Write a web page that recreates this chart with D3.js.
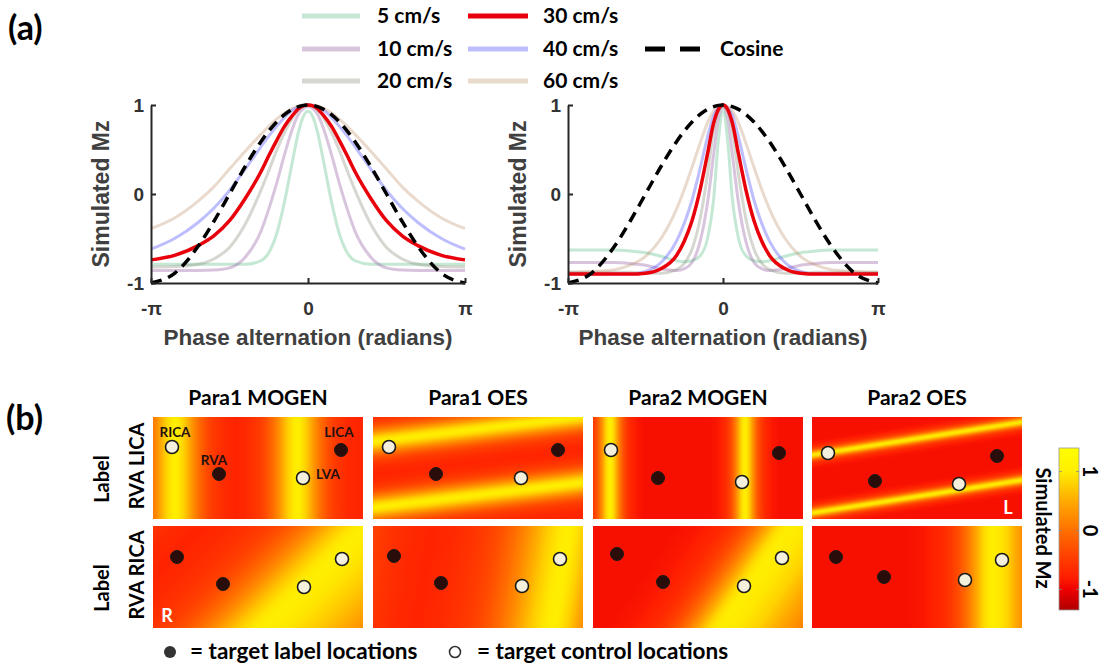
<!DOCTYPE html>
<html>
<head>
<meta charset="utf-8">
<script src="https://cdn.jsdelivr.net/npm/d3@7"></script>
<style>
  body { margin: 0; background: #fff; }
</style>
</head>
<body>
<svg id="chart" width="1107" height="666"></svg>
<script>
// phase alternation, in units of pi
const phaseGrid = [-1, -0.85, -0.7, -0.6, -0.5, -0.4, -0.3, -0.25, -0.2, -0.15, -0.1, -0.06, -0.03, 0,
                   0.03, 0.06, 0.1, 0.15, 0.2, 0.25, 0.3, 0.4, 0.5, 0.6, 0.7, 0.85, 1];

const speedNames = ['5 cm/s', '10 cm/s', '20 cm/s', '30 cm/s', '40 cm/s', '60 cm/s'];

// Para1 (left plot), simulated Mz per speed
const para1V5  = [-0.79,-0.79,-0.79,-0.79,-0.79,-0.79,-0.75,-0.66,-0.45,-0.09,0.36,0.70,0.87,0.93,0.87,0.70,0.36,-0.09,-0.45,-0.66,-0.75,-0.79,-0.79,-0.79,-0.79,-0.79,-0.79];
const para1V10 = [-0.86,-0.86,-0.86,-0.855,-0.83,-0.71,-0.42,-0.17,0.12,0.44,0.73,0.90,0.96,0.98,0.96,0.90,0.73,0.44,0.12,-0.17,-0.42,-0.71,-0.83,-0.855,-0.86,-0.86,-0.86];
const para1V20 = [-0.82,-0.815,-0.79,-0.73,-0.6,-0.34,0.04,0.26,0.49,0.69,0.855,0.95,0.99,1.0,0.99,0.95,0.855,0.69,0.49,0.26,0.04,-0.34,-0.6,-0.73,-0.79,-0.815,-0.82];
const para1V30 = [-0.74,-0.69,-0.58,-0.47,-0.3,-0.05,0.25,0.43,0.6,0.76,0.88,0.96,0.99,1.0,0.99,0.96,0.88,0.76,0.6,0.43,0.25,-0.05,-0.3,-0.47,-0.58,-0.69,-0.74];
const para1V40 = [-0.62,-0.5,-0.32,-0.16,0.04,0.28,0.53,0.65,0.76,0.86,0.94,0.98,0.995,1.0,0.995,0.98,0.94,0.86,0.76,0.65,0.53,0.28,0.04,-0.16,-0.32,-0.5,-0.62];
const para1V60 = [-0.39,-0.27,-0.08,0.08,0.28,0.48,0.67,0.76,0.84,0.91,0.96,0.99,1.0,1.0,1.0,0.99,0.96,0.91,0.84,0.76,0.67,0.48,0.28,0.08,-0.08,-0.27,-0.39];

// Para2 (right plot)
const para2V5  = [-0.63,-0.63,-0.63,-0.64,-0.66,-0.7,-0.75,-0.76,-0.75,-0.7,-0.5,-0.05,0.6,0.93,0.6,-0.05,-0.5,-0.7,-0.75,-0.76,-0.75,-0.7,-0.66,-0.64,-0.63,-0.63,-0.63];
const para2V10 = [-0.77,-0.77,-0.77,-0.78,-0.8,-0.84,-0.86,-0.84,-0.77,-0.55,-0.1,0.45,0.85,0.97,0.85,0.45,-0.1,-0.55,-0.77,-0.84,-0.86,-0.84,-0.8,-0.78,-0.77,-0.77,-0.77];
const para2V20 = [-0.88,-0.88,-0.88,-0.88,-0.89,-0.89,-0.85,-0.78,-0.62,-0.3,0.22,0.72,0.93,0.98,0.93,0.72,0.22,-0.3,-0.62,-0.78,-0.85,-0.89,-0.89,-0.88,-0.88,-0.88,-0.88];
const para2V30 = [-0.9,-0.9,-0.9,-0.9,-0.89,-0.84,-0.69,-0.53,-0.3,0.03,0.45,0.8,0.95,1.0,0.95,0.8,0.45,0.03,-0.3,-0.53,-0.69,-0.84,-0.89,-0.9,-0.9,-0.9,-0.9];
const para2V40 = [-0.9,-0.9,-0.9,-0.9,-0.87,-0.77,-0.53,-0.33,-0.07,0.27,0.64,0.88,0.97,1.0,0.97,0.88,0.64,0.27,-0.07,-0.33,-0.53,-0.77,-0.87,-0.9,-0.9,-0.9,-0.9];
const para2V60 = [-0.88,-0.87,-0.85,-0.8,-0.7,-0.5,-0.17,0.05,0.3,0.56,0.8,0.93,0.98,1.0,0.98,0.93,0.8,0.56,0.3,0.05,-0.17,-0.5,-0.7,-0.8,-0.85,-0.87,-0.88];

const cosineMz = [-1,-0.891,-0.588,-0.309,0,0.309,0.588,0.707,0.809,0.891,0.951,0.982,0.996,1,0.996,0.982,0.951,0.891,0.809,0.707,0.588,0.309,0,-0.309,-0.588,-0.891,-1];

const yTicks = [-1, 0, 1];
const xTicks = [-1, 0, 1];
const xTickLabels = ['-\u03c0', '0', '\u03c0'];

// (b) panels
const panelTitles = ['Para1 MOGEN', 'Para1 OES', 'Para2 MOGEN', 'Para2 OES'];
const rowLabelTop = ['Label', 'Label'];
const rowLabelBottom = ['RVA LICA', 'RVA RICA'];
// Mz field per panel (row-major): stripe through ref point, normal angle, period (px) each side
const fieldProfile = ['para1', 'para1', 'para2', 'para2', 'para1', 'para1', 'para2', 'para2'];
const fieldRefX = [22, 105, 17, 105, 151, 188, 156, 181];
const fieldRefY = [51, 78, 51, 79.5, 61, 51, 60, 51];
const fieldAngle = [0, 83.2, 0, 81.1, 45, 9.4, 34.4, 0];
const fieldPeriodNeg = [122, 65.5, 135, 57.3, 230, 270, 370, 340];
const fieldPeriodPos = [122, 65.5, 135, 57.3, 487, 200, 1000, 480];

// vessel spots per panel, in panel units (210 x 102)
const ricaSpot = [[19,30],[16,30],[18,33],[16,36],[24,31],[21,30],[24,28],[24,31]];
const rvaSpot  = [[66,57],[63,57],[65,61],[63,64],[70,58],[68,57],[70,56],[72,51]];
const lvaSpot  = [[150,61],[148,61],[149,65],[147,67],[151,61],[149,60],[151,60],[153,54]];
const licaSpot = [[188,33],[185,33],[186,36],[185,39],[189,33],[187,33],[189,32],[190,34]];
const labelledVessels = [['RVA', 'LICA'], ['RVA', 'RICA']];

const colorbarTicks = [-1, 0, 1];
const cmapStops = [-1.35, -1, -0.8, -0.4, 0, 0.5, 1.0, 1.4];
const cmapColors = ['#b00000', '#ee0000', '#ff1e00', '#ff4400', '#ff7000', '#ffaa00', '#ffee00', '#ffff00'];

// ---- drawing ----
const svg = d3.select('#chart');
const sans = "Lato, 'Open Sans', sans-serif";
const arial = "'Liberation Sans', Arial, sans-serif";
const speedColors = ['#3cb371', '#8e5a9e', '#8a8c7a', '#e8000b', '#4646ff', '#b5845a'];
const speedOpacity = [0.3, 0.35, 0.35, 1, 0.35, 0.3];

svg.append('rect').attr('width', 1107).attr('height', 666).attr('fill', '#fff');

svg.append('text').attr('x', 8).attr('y', 40).text('(a)')
  .attr('font-family', sans).attr('font-weight', 700).attr('font-size', 34);
svg.append('text').attr('x', 6).attr('y', 430).text('(b)')
  .attr('font-family', sans).attr('font-weight', 700).attr('font-size', 34);

function drawPlot(x0, x1, y0, y1, series) {
  const x = d3.scaleLinear().domain([-1, 1]).range([x0, x1]);
  const y = d3.scaleLinear().domain([-1, 1]).range([y1, y0]);
  const g = svg.append('g');

  const line = d3.line()
    .x((d, i) => x(phaseGrid[i]))
    .y(d => y(d))
    .curve(d3.curveMonotoneX);

  // faint speeds first, red 30 cm/s on top, then cosine
  const order = [0, 1, 2, 5, 4, 3];
  order.forEach(k => {
    g.append('path').datum(series[k])
      .attr('d', line)
      .attr('fill', 'none')
      .attr('stroke', speedColors[k])
      .attr('stroke-opacity', speedOpacity[k])
      .attr('stroke-width', k === 3 ? 3.5 : 3);
  });
  g.append('path').datum(cosineMz)
    .attr('d', line)
    .attr('fill', 'none')
    .attr('stroke', '#000')
    .attr('stroke-width', 3.5)
    .attr('stroke-dasharray', '11,7');

  const yAxis = g.append('g').attr('transform', `translate(${x0},0)`)
    .call(d3.axisLeft(y).tickValues(yTicks).tickFormat(d => String(d))
      .tickSizeInner(-5).tickSizeOuter(0).tickPadding(7));
  const xAxis = g.append('g').attr('transform', `translate(0,${y1})`)
    .call(d3.axisBottom(x).tickValues(xTicks).tickFormat((d, i) => xTickLabels[i])
      .tickSizeInner(-5).tickSizeOuter(0).tickPadding(19));
  [yAxis, xAxis].forEach(a => {
    a.selectAll('path, line').attr('stroke', '#262626').attr('stroke-width', 2);
    a.selectAll('text').attr('font-family', arial).attr('font-weight', 700)
      .attr('font-size', 19).attr('fill', '#333');
  });

  g.append('text')
    .attr('transform', `translate(${x0 - 42},${(y0 + y1) / 2}) rotate(-90)`)
    .attr('text-anchor', 'middle')
    .attr('font-family', arial).attr('font-weight', 700).attr('font-size', 23)
    .attr('fill', '#404040').text('Simulated Mz');
  g.append('text')
    .attr('x', (x0 + x1) / 2).attr('y', 345)
    .attr('text-anchor', 'middle')
    .attr('font-family', arial).attr('font-weight', 700).attr('font-size', 22.5)
    .attr('fill', '#404040').text('Phase alternation (radians)');
}

const para1 = [para1V5, para1V10, para1V20, para1V30, para1V40, para1V60];
const para2 = [para2V5, para2V10, para2V20, para2V30, para2V40, para2V60];
drawPlot(151, 465, 105, 283, para1);
drawPlot(568, 878, 105, 283, para2);

// legend
const legRowY = [16, 49, 81];
const legCols = [{ x1: 302, x2: 360, tx: 377 }, { x1: 468, x2: 528, tx: 543 }];
speedNames.forEach((name, k) => {
  const c = legCols[Math.floor(k / 3)];
  const yy = legRowY[k % 3];
  svg.append('line').attr('x1', c.x1).attr('x2', c.x2).attr('y1', yy).attr('y2', yy)
    .attr('stroke', speedColors[k]).attr('stroke-opacity', speedOpacity[k])
    .attr('stroke-width', 5);
  svg.append('text').attr('x', c.tx).attr('y', yy).attr('dy', '0.35em').text(name)
    .attr('font-family', sans).attr('font-weight', 700).attr('font-size', 21);
});
svg.append('line').attr('x1', 645).attr('x2', 700).attr('y1', legRowY[1]).attr('y2', legRowY[1])
  .attr('stroke', '#000').attr('stroke-width', 5).attr('stroke-dasharray', '20,15');
svg.append('text').attr('x', 720).attr('y', legRowY[1]).attr('dy', '0.35em').text('Cosine')
  .attr('font-family', sans).attr('font-weight', 700).attr('font-size', 21);

// ---- (b) heat maps ----
const color = d3.scaleLinear().domain(cmapStops).range(cmapColors).clamp(true);
const profiles = {
  para1: d3.scaleLinear().domain(phaseGrid).range(para1V30),
  para2: d3.scaleLinear().domain(phaseGrid).range(para2V30)
};
const panelX = [153, 373, 593, 812];
const panelY = [417, 526];
const panelW = 210, panelH = 102;
const defs = svg.append('defs');

d3.range(8).forEach(i => {
  const row = Math.floor(i / 4), col = i % 4;
  const xs = d3.scaleLinear().domain([0, panelW]).range([panelX[col], panelX[col] + panelW]);
  const ys = d3.scaleLinear().domain([0, panelH]).range([panelY[row], panelY[row] + panelH]);
  const a = fieldAngle[i] * Math.PI / 180, nx = Math.cos(a), ny = Math.sin(a);
  const L = 260, nStops = 320;
  const grad = defs.append('linearGradient').attr('id', 'hm' + i)
    .attr('gradientUnits', 'userSpaceOnUse')
    .attr('x1', xs(fieldRefX[i] - nx * L)).attr('y1', ys(fieldRefY[i] - ny * L))
    .attr('x2', xs(fieldRefX[i] + nx * L)).attr('y2', ys(fieldRefY[i] + ny * L));
  const prof = profiles[fieldProfile[i]];
  d3.range(nStops + 1).forEach(k => {
    const s = -L + 2 * L * k / nStops;
    const per = s < 0 ? fieldPeriodNeg[i] : fieldPeriodPos[i];
    let f = 2 * s / per;
    f = ((f + 1) % 2 + 2) % 2 - 1;
    grad.append('stop').attr('offset', k / nStops).attr('stop-color', color(prof(f)));
  });
  const g = svg.append('g');
  g.append('rect').attr('x', xs(0)).attr('y', ys(0))
    .attr('width', xs(panelW) - xs(0)).attr('height', ys(panelH) - ys(0))
    .attr('fill', `url(#hm${i})`);

  const spots = { RICA: ricaSpot[i], RVA: rvaSpot[i], LVA: lvaSpot[i], LICA: licaSpot[i] };
  Object.keys(spots).forEach(v => {
    const lab = labelledVessels[row].includes(v);
    g.append('circle').attr('cx', xs(spots[v][0])).attr('cy', ys(spots[v][1])).attr('r', 6.5)
      .attr('fill', lab ? '#2a0c0a' : '#f4f0dc')
      .attr('stroke', '#1a1a1a').attr('stroke-width', lab ? 1 : 1.6);
  });

  if (i === 0) {
    const tl = [['RICA', 22, 15, 'middle'], ['RVA', 61, 43, 'middle'], ['LICA', 186, 15, 'middle'], ['LVA', 163, 57, 'start']];
    tl.forEach(t => g.append('text').attr('x', xs(t[1])).attr('y', ys(t[2])).attr('dy', '0.35em')
      .attr('text-anchor', t[3]).text(t[0])
      .attr('font-family', sans).attr('font-weight', 700).attr('font-size', 13.5).attr('fill', '#221010'));
  }
  if (i === 3) {
    g.append('text').attr('x', xs(196)).attr('y', ys(91)).attr('dy', '0.35em').attr('text-anchor', 'middle')
      .text('L').attr('font-family', sans).attr('font-weight', 700).attr('font-size', 18).attr('fill', '#fff');
  }
  if (i === 4) {
    g.append('text').attr('x', xs(14)).attr('y', ys(90)).attr('dy', '0.35em').attr('text-anchor', 'middle')
      .text('R').attr('font-family', sans).attr('font-weight', 700).attr('font-size', 18).attr('fill', '#fff');
  }
  if (row === 0) {
    svg.append('text').attr('x', xs(panelW / 2)).attr('y', 405).attr('text-anchor', 'middle')
      .text(panelTitles[col]).attr('font-family', sans).attr('font-weight', 700).attr('font-size', 21);
  }
});

// row labels
[0, 1].forEach(r => {
  const cy = panelY[r] + panelH / 2;
  svg.append('text').attr('transform', `translate(102,${cy + 11}) rotate(-90)`)
    .attr('text-anchor', 'middle').attr('dy', '0.35em').text(rowLabelTop[r])
    .attr('font-family', sans).attr('font-weight', 700).attr('font-size', 20);
  svg.append('text').attr('transform', `translate(137,${cy - 2}) rotate(-90)`)
    .attr('text-anchor', 'middle').attr('dy', '0.35em').text(rowLabelBottom[r])
    .attr('font-family', sans).attr('font-weight', 700).attr('font-size', 20);
});

// colour bar
const cb = d3.scaleLinear().domain([cmapStops[0], cmapStops[cmapStops.length - 1]]).range([610, 448]);
const cbGrad = defs.append('linearGradient').attr('id', 'cbar')
  .attr('x1', 0).attr('y1', 1).attr('x2', 0).attr('y2', 0);
cmapStops.forEach((v, k) => {
  cbGrad.append('stop')
    .attr('offset', (v - cmapStops[0]) / (cmapStops[cmapStops.length - 1] - cmapStops[0]))
    .attr('stop-color', cmapColors[k]);
});
svg.append('rect').attr('x', 1059).attr('y', cb.range()[1]).attr('width', 20)
  .attr('height', cb.range()[0] - cb.range()[1])
  .attr('fill', 'url(#cbar)').attr('stroke', '#9a9a9a').attr('stroke-width', 0.8);
colorbarTicks.forEach(t => {
  svg.append('line').attr('x1', 1059).attr('x2', 1062).attr('y1', cb(t)).attr('y2', cb(t))
    .attr('stroke', '#888').attr('stroke-width', 0.8);
  svg.append('line').attr('x1', 1076).attr('x2', 1079).attr('y1', cb(t)).attr('y2', cb(t))
    .attr('stroke', '#888').attr('stroke-width', 0.8);
  svg.append('text').attr('transform', `translate(1090,${cb(t)}) rotate(90)`)
    .attr('text-anchor', 'middle').attr('dy', '0.35em').text(String(t))
    .attr('font-family', sans).attr('font-weight', 700).attr('font-size', 20);
});
svg.append('text').attr('transform', 'translate(1043,528) rotate(90)')
  .attr('text-anchor', 'middle').attr('dy', '0.35em').text('Simulated Mz')
  .attr('font-family', sans).attr('font-weight', 700).attr('font-size', 20);

// bottom key
svg.append('circle').attr('cx', 170).attr('cy', 652).attr('r', 6).attr('fill', '#333');
svg.append('text').attr('x', 190).attr('y', 659).text('= target label locations')
  .attr('font-family', sans).attr('font-weight', 700).attr('font-size', 22.5);
svg.append('circle').attr('cx', 455).attr('cy', 652).attr('r', 5.5)
  .attr('fill', '#fff').attr('stroke', '#333').attr('stroke-width', 1.6);
svg.append('text').attr('x', 477).attr('y', 659).text('= target control locations')
  .attr('font-family', sans).attr('font-weight', 700).attr('font-size', 22.5);
</script>
</body>
</html>
